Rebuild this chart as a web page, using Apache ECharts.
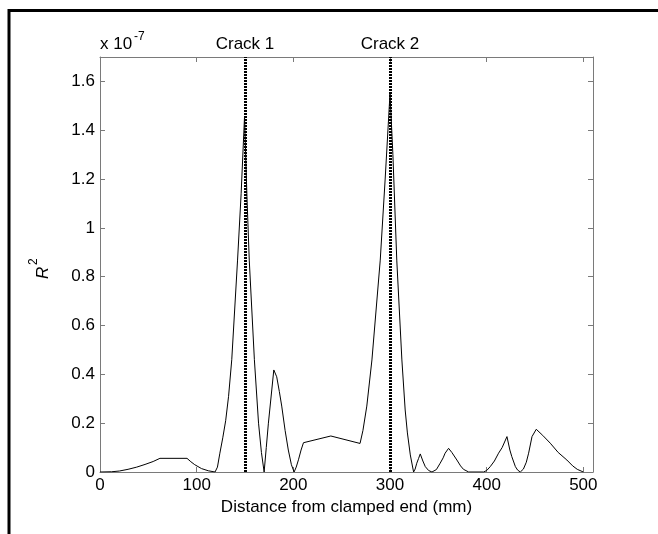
<!DOCTYPE html>
<html>
<head>
<meta charset="utf-8">
<script src="https://cdn.jsdelivr.net/npm/echarts@6/dist/echarts.min.js"></script>
<style>
html,body{margin:0;padding:0;background:#fff;}
#chart{width:658px;height:534px;}
</style>
</head>
<body>
<div id="chart"></div>
<script>
// Distance from clamped end (mm)
const distance = [
  0, 12, 20, 29, 38, 46.6, 55, 62, 90, 94, 98, 105, 112, 119,
  121.5, 124, 127, 130, 133, 136.3, 142.3, 146, 149.5, 152, 154.4, 159.7, 164, 167, 169.8,
  172, 174.2, 177.7, 179.8, 182.8, 185.5, 188, 191.5, 194.8, 198, 200.8,
  203, 205.3, 208, 210.5, 238.8, 269,
  272, 276, 281.3, 289.9, 295, 300, 303, 307, 312.3, 315.7, 318, 321, 324.4,
  326, 327.7, 329.5, 331.3, 334, 336.5, 340, 343.4,
  348, 351.9, 355, 357, 360.6, 364, 369.2, 373, 376, 381.4, 396.8,
  400, 403.7, 408, 412.3, 416, 421, 424, 426, 429.7, 432, 434.8,
  438, 441, 443.4, 446.9, 451.3, 458, 465.8, 474, 483, 489, 493.7, 500
];
// R^2 values (x 10^-7)
const r2 = [
  0, 0.001, 0.004, 0.011, 0.02, 0.031, 0.043, 0.056, 0.056, 0.042, 0.03, 0.014, 0.005, 0,
  0.02, 0.077, 0.14, 0.21, 0.31, 0.46, 0.868, 1.14, 1.455, 1.13, 0.868, 0.46, 0.2, 0.08, 0,
  0.1, 0.2, 0.336, 0.418, 0.39, 0.33, 0.27, 0.17, 0.09, 0.03, 0,
  0.02, 0.05, 0.09, 0.12, 0.1475, 0.117,
  0.17, 0.27, 0.459, 0.868, 1.2, 1.55, 1.3, 0.868, 0.459, 0.254, 0.16, 0.07, 0,
  0.012, 0.036, 0.055, 0.074, 0.045, 0.022, 0.006, 0,
  0.01, 0.036, 0.058, 0.077, 0.097, 0.08, 0.049, 0.025, 0.011, 0, 0,
  0.006, 0.022, 0.045, 0.077, 0.1, 0.145, 0.09, 0.063, 0.022, 0.008, 0,
  0.012, 0.04, 0.077, 0.145, 0.175, 0.15, 0.118, 0.08, 0.049, 0.025, 0.011, 0
];
// Crack positions
const crackPos = [150, 300];
const crackNames = ['Crack 1', 'Crack 2'];
// Tick settings
const xTickStep = 100;
const yTickStep = 0.2;

const FONT = '"Liberation Sans", Arial, sans-serif';
const AXIS_COLOR = '#7a7a7a';

const chart = echarts.init(document.getElementById('chart'), null, {renderer: 'canvas'});

const xLabelFmt = v => (Math.abs(v % 100) < 1e-6 ? String(v) : '');
const yLabelFmt = v => {
  if (v > 1.65) return '';
  const r = Math.round(v * 10) / 10;
  return (Math.abs(r - Math.round(r)) < 1e-9) ? String(Math.round(r)) : r.toFixed(1);
};

const option = {
  animation: false,
  backgroundColor: '#fff',
  grid: {left: 100, top: 57, width: 493, height: 415, containLabel: false},
  xAxis: [
    {
      type: 'value', min: 0, max: 510, interval: xTickStep, position: 'bottom',
      name: 'Distance from clamped end (mm)', nameLocation: 'middle', nameGap: 27,
      nameTextStyle: {color: '#000', fontSize: 17, fontFamily: FONT},
      axisLine: {show: true, onZero: false, lineStyle: {color: AXIS_COLOR, width: 1}},
      axisTick: {show: true, inside: true, length: 5, lineStyle: {color: AXIS_COLOR}},
      axisLabel: {color: '#000', fontSize: 17, fontFamily: FONT, margin: 5, formatter: xLabelFmt},
      splitLine: {show: false}
    },
    {
      type: 'value', min: 0, max: 510, interval: xTickStep, position: 'top',
      axisLine: {show: true, onZero: false, lineStyle: {color: AXIS_COLOR, width: 1}},
      axisTick: {show: true, inside: true, length: 5, lineStyle: {color: AXIS_COLOR}},
      axisLabel: {show: false},
      splitLine: {show: false}
    }
  ],
  yAxis: [
    {
      type: 'value', min: 0, max: 1.7, interval: yTickStep, position: 'left',
      axisLine: {show: true, onZero: false, lineStyle: {color: AXIS_COLOR, width: 1}},
      axisTick: {show: true, inside: true, length: 5, lineStyle: {color: AXIS_COLOR}},
      axisLabel: {color: '#000', fontSize: 17, fontFamily: FONT, margin: 5, formatter: yLabelFmt},
      splitLine: {show: false}
    },
    {
      type: 'value', min: 0, max: 1.7, interval: yTickStep, position: 'right',
      axisLine: {show: true, onZero: false, lineStyle: {color: AXIS_COLOR, width: 1}},
      axisTick: {show: true, inside: true, length: 5, lineStyle: {color: AXIS_COLOR}},
      axisLabel: {show: false},
      splitLine: {show: false}
    }
  ],
  series: [
    {
      type: 'line',
      xAxisIndex: 0, yAxisIndex: 0,
      data: distance.map((x, i) => [x, r2[i]]),
      showSymbol: false,
      symbol: 'none',
      smooth: false,
      lineStyle: {color: '#000', width: 1},
      markLine: {
        silent: true,
        symbol: ['none', 'none'],
        animation: false,
        lineStyle: {type: [2, 1], width: 3, color: '#000'},
        label: {show: true, position: 'end', distance: 4, color: '#000', fontSize: 17, fontFamily: FONT},
        data: crackPos.map((p, i) => ({xAxis: p, label: {formatter: crackNames[i]}}))
      }
    }
  ],
  graphic: [
    // outer frame (top and left edges visible)
    {type: 'rect', shape: {x: 9, y: 10.5, width: 800, height: 700}, style: {fill: 'none', stroke: '#000', lineWidth: 3}, silent: true},
    // y-axis exponent
    {type: 'text', x: 100, y: 53, style: {text: 'x 10', fill: '#000', font: '17px ' + FONT, textVerticalAlign: 'bottom'}},
    {type: 'text', x: 134, y: 43, style: {text: '-7', fill: '#000', font: '12px ' + FONT, textVerticalAlign: 'bottom'}},
    // y-axis name R^2 (rotated)
    {type: 'text', x: 52, y: 279, rotation: Math.PI / 2, style: {text: 'R', fill: '#000', font: 'italic 17px ' + FONT, textVerticalAlign: 'bottom'}},
    {type: 'text', x: 40, y: 265, rotation: Math.PI / 2, style: {text: '2', fill: '#000', font: '12px ' + FONT, textVerticalAlign: 'bottom'}}
  ]
};

chart.setOption(option);
</script>
</body>
</html>
